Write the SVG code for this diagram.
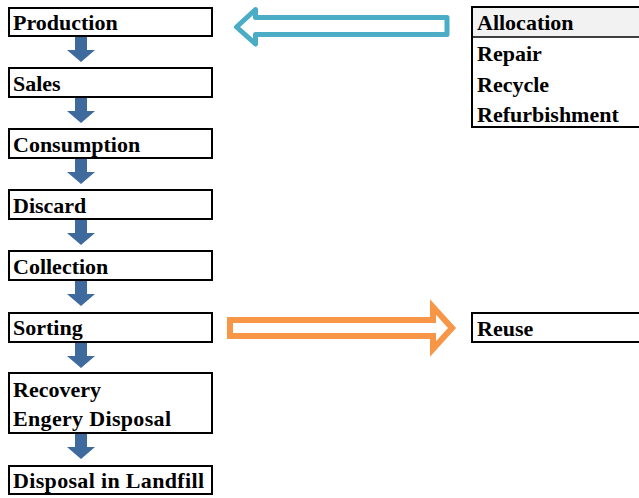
<svg xmlns="http://www.w3.org/2000/svg" width="639" height="498" viewBox="0 0 639 498">
<style>
.box{fill:#fff;stroke:#000;stroke-width:2}
.t{font-family:"Liberation Serif","Times New Roman",serif;font-weight:bold;font-size:22px;fill:#000}
.down{fill:#3f6a9e}
</style>
<defs>
<path id="dn" class="down" d="M-6,0 H6 V13 H14 L0,25 L-14,13 H-6 Z"/>
</defs>
<rect width="639" height="498" fill="#fff"/>
<g id="production"><rect class="box" x="9" y="8" width="203" height="28"/><text class="t" x="13" y="30">Production</text></g>
<g id="sales"><rect class="box" x="9" y="68" width="203" height="29"/><text class="t" x="13" y="91">Sales</text></g>
<g id="consumption"><rect class="box" x="9" y="129" width="203" height="29"/><text class="t" x="13" y="152">Consumption</text></g>
<g id="discard"><rect class="box" x="9" y="190" width="203" height="29"/><text class="t" x="13" y="213">Discard</text></g>
<g id="collection"><rect class="box" x="9" y="251" width="203" height="29"/><text class="t" x="13" y="274">Collection</text></g>
<g id="sorting"><rect class="box" x="9" y="313" width="203" height="29"/><text class="t" x="13" y="335">Sorting</text></g>
<g id="recovery"><rect class="box" x="9" y="373" width="203" height="60"/><text class="t" x="13" y="397">Recovery</text><text class="t" x="13" y="426" textLength="158">Engery Disposal</text></g>
<g id="landfill"><rect class="box" x="9" y="466" width="203" height="28"/><text class="t" x="13" y="488" textLength="191">Disposal in Landfill</text></g>
<g id="allocation">
<rect x="472" y="7" width="180" height="30" fill="#f2f2f2"/>
<path d="M650,7 H472 V127 H650" fill="none" stroke="#000" stroke-width="2"/>
<line x1="472" y1="37" x2="650" y2="37" stroke="#000" stroke-width="1.5"/>
<text class="t" x="477" y="30">Allocation</text>
<text class="t" x="477" y="61">Repair</text>
<text class="t" x="477" y="92">Recycle</text>
<text class="t" x="477" y="122">Refurbishment</text>
</g>
<g id="reuse"><rect class="box" x="472" y="313" width="180" height="29"/><text class="t" x="477" y="336">Reuse</text></g>
<g id="connectors">
<use href="#dn" x="81" y="37"/>
<use href="#dn" x="81" y="98"/>
<use href="#dn" x="81" y="159"/>
<use href="#dn" x="81" y="220"/>
<use href="#dn" x="81" y="281"/>
<use href="#dn" x="81" y="343"/>
<use href="#dn" x="81" y="434"/>
<path d="M447,17.5 H255.5 V9.5 L236.5,27 L255.5,44 V34.5 H447 Z" fill="#fff" stroke="#4bacc6" stroke-width="5" stroke-linejoin="round"/>
<path d="M230,320 H433 V307 L452,328 L433,349 V336 H230 Z" fill="#fff" stroke="#f79646" stroke-width="6"/>
</g>
</svg>
